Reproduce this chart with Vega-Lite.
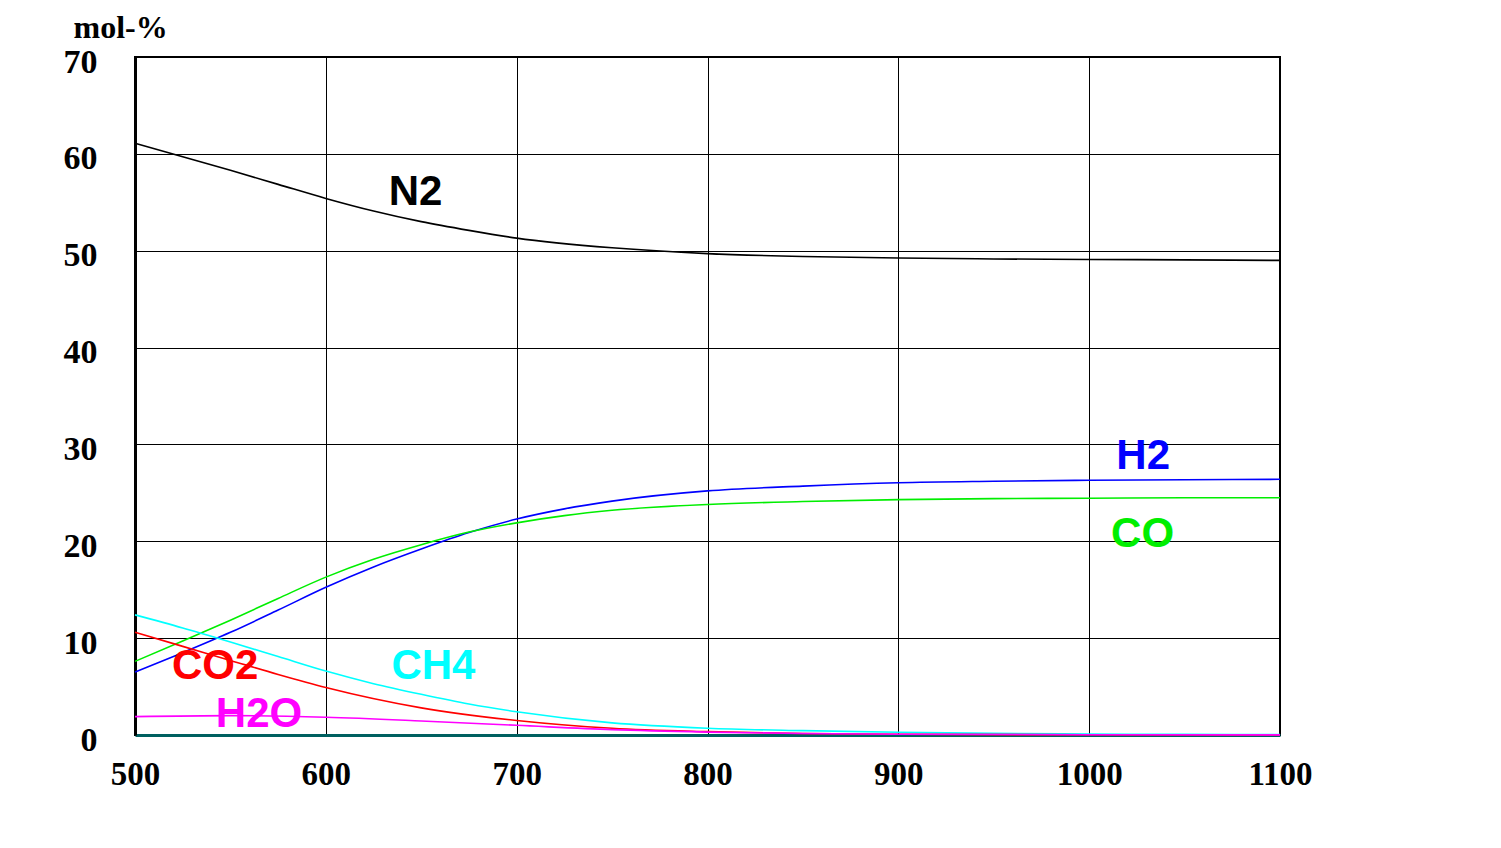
{
  "$schema": "https://vega.github.io/schema/vega-lite/v6.json",
  "width": 1145,
  "height": 678,
  "autosize": {"type": "none"},
  "padding": {"left": 135, "top": 57, "right": 221, "bottom": 113},
  "background": "white",
  "config": {
    "view": {"stroke": "#000000", "strokeWidth": 2},
    "axis": {"labelFont": "Liberation Serif", "labelFontWeight": "bold", "labelColor": "#000000", "gridColor": "#000000", "gridWidth": 1, "gridOpacity": 1, "ticks": false}
  },
  "datasets": {
    "series": [
      {"T": 500, "species": "N2", "v": 61.1}, {"T": 525, "species": "N2", "v": 59.7}, {"T": 550, "species": "N2", "v": 58.3}, {"T": 575, "species": "N2", "v": 56.85}, {"T": 600, "species": "N2", "v": 55.4}, {"T": 625, "species": "N2", "v": 54.1}, {"T": 650, "species": "N2", "v": 53.0}, {"T": 675, "species": "N2", "v": 52.1}, {"T": 700, "species": "N2", "v": 51.3}, {"T": 750, "species": "N2", "v": 50.3}, {"T": 800, "species": "N2", "v": 49.7}, {"T": 850, "species": "N2", "v": 49.4}, {"T": 900, "species": "N2", "v": 49.25}, {"T": 950, "species": "N2", "v": 49.15}, {"T": 1000, "species": "N2", "v": 49.1}, {"T": 1050, "species": "N2", "v": 49.05}, {"T": 1100, "species": "N2", "v": 49.0},
      {"T": 500, "species": "H2", "v": 6.5}, {"T": 525, "species": "H2", "v": 8.5}, {"T": 550, "species": "H2", "v": 10.6}, {"T": 575, "species": "H2", "v": 12.9}, {"T": 600, "species": "H2", "v": 15.25}, {"T": 625, "species": "H2", "v": 17.35}, {"T": 650, "species": "H2", "v": 19.2}, {"T": 675, "species": "H2", "v": 20.9}, {"T": 700, "species": "H2", "v": 22.3}, {"T": 725, "species": "H2", "v": 23.35}, {"T": 750, "species": "H2", "v": 24.15}, {"T": 800, "species": "H2", "v": 25.2}, {"T": 850, "species": "H2", "v": 25.7}, {"T": 900, "species": "H2", "v": 26.05}, {"T": 950, "species": "H2", "v": 26.2}, {"T": 1000, "species": "H2", "v": 26.3}, {"T": 1050, "species": "H2", "v": 26.35}, {"T": 1100, "species": "H2", "v": 26.4},
      {"T": 500, "species": "CO", "v": 7.6}, {"T": 525, "species": "CO", "v": 9.7}, {"T": 550, "species": "CO", "v": 11.85}, {"T": 575, "species": "CO", "v": 14.1}, {"T": 600, "species": "CO", "v": 16.3}, {"T": 625, "species": "CO", "v": 18.15}, {"T": 650, "species": "CO", "v": 19.65}, {"T": 675, "species": "CO", "v": 20.95}, {"T": 700, "species": "CO", "v": 21.9}, {"T": 725, "species": "CO", "v": 22.65}, {"T": 750, "species": "CO", "v": 23.2}, {"T": 800, "species": "CO", "v": 23.8}, {"T": 850, "species": "CO", "v": 24.1}, {"T": 900, "species": "CO", "v": 24.3}, {"T": 950, "species": "CO", "v": 24.4}, {"T": 1000, "species": "CO", "v": 24.45}, {"T": 1050, "species": "CO", "v": 24.5}, {"T": 1100, "species": "CO", "v": 24.5},
      {"T": 500, "species": "CH4", "v": 12.4}, {"T": 525, "species": "CH4", "v": 11.05}, {"T": 550, "species": "CH4", "v": 9.6}, {"T": 575, "species": "CH4", "v": 8.1}, {"T": 600, "species": "CH4", "v": 6.6}, {"T": 625, "species": "CH4", "v": 5.3}, {"T": 650, "species": "CH4", "v": 4.2}, {"T": 675, "species": "CH4", "v": 3.2}, {"T": 700, "species": "CH4", "v": 2.4}, {"T": 750, "species": "CH4", "v": 1.25}, {"T": 800, "species": "CH4", "v": 0.7}, {"T": 850, "species": "CH4", "v": 0.45}, {"T": 900, "species": "CH4", "v": 0.28}, {"T": 950, "species": "CH4", "v": 0.17}, {"T": 1000, "species": "CH4", "v": 0.1}, {"T": 1050, "species": "CH4", "v": 0.07}, {"T": 1100, "species": "CH4", "v": 0.05},
      {"T": 500, "species": "CO2", "v": 10.6}, {"T": 525, "species": "CO2", "v": 9.15}, {"T": 550, "species": "CO2", "v": 7.7}, {"T": 575, "species": "CO2", "v": 6.25}, {"T": 600, "species": "CO2", "v": 4.9}, {"T": 650, "species": "CO2", "v": 2.8}, {"T": 700, "species": "CO2", "v": 1.5}, {"T": 750, "species": "CO2", "v": 0.7}, {"T": 800, "species": "CO2", "v": 0.35}, {"T": 850, "species": "CO2", "v": 0.15}, {"T": 900, "species": "CO2", "v": 0.07}, {"T": 1000, "species": "CO2", "v": 0.02}, {"T": 1100, "species": "CO2", "v": 0.01},
      {"T": 500, "species": "H2O", "v": 1.9}, {"T": 550, "species": "H2O", "v": 2.0}, {"T": 600, "species": "H2O", "v": 1.83}, {"T": 650, "species": "H2O", "v": 1.45}, {"T": 700, "species": "H2O", "v": 1.0}, {"T": 750, "species": "H2O", "v": 0.55}, {"T": 800, "species": "H2O", "v": 0.3}, {"T": 850, "species": "H2O", "v": 0.15}, {"T": 900, "species": "H2O", "v": 0.08}, {"T": 1000, "species": "H2O", "v": 0.03}, {"T": 1100, "species": "H2O", "v": 0.01}
    ],
    "labels": [
      {"T": 647, "v": 54.7, "species": "N2"},
      {"T": 1028.3, "v": 27.5, "species": "H2"},
      {"T": 1028, "v": 19.4, "species": "CO"},
      {"T": 542, "v": 5.75, "species": "CO2"},
      {"T": 656.4, "v": 5.75, "species": "CH4"},
      {"T": 565, "v": 0.8, "species": "H2O"}
    ]
  },
  "layer": [
    {
      "data": {"name": "series"},
      "mark": {"type": "line", "interpolate": "monotone", "strokeWidth": 1.6},
      "encoding": {
        "x": {
          "field": "T", "type": "quantitative",
          "scale": {"domain": [500, 1100], "nice": false, "zero": false},
          "axis": {"values": [500, 600, 700, 800, 900, 1000, 1100], "format": "d", "title": null, "labelFontSize": 33, "labelPadding": 23, "labelBaseline": "top", "domainColor": "#006060", "domainWidth": 3, "labelFlush": false}
        },
        "y": {
          "field": "v", "type": "quantitative",
          "scale": {"domain": [0, 70], "nice": false},
          "axis": {"values": [0, 10, 20, 30, 40, 50, 60, 70], "title": "mol-%", "titleAngle": 0, "titleAlign": "left", "titleBaseline": "alphabetic", "titleX": -62, "titleY": -20, "titleFont": "Liberation Serif", "titleFontWeight": "bold", "titleFontSize": 32, "titleColor": "#000000", "labelFontSize": 34, "labelPadding": 38, "labelOffset": 5, "domainColor": "#000000", "domainWidth": 3}
        },
        "color": {
          "field": "species", "type": "nominal",
          "scale": {"domain": ["N2", "H2", "CO", "CH4", "CO2", "H2O"], "range": ["#000000", "#0000ff", "#00ee00", "#00ffff", "#ff0000", "#ff00ff"]},
          "legend": null
        }
      }
    },
    {
      "data": {"name": "labels"},
      "mark": {"type": "text", "font": "Liberation Sans", "fontWeight": "bold", "fontSize": 42, "align": "center", "baseline": "alphabetic"},
      "encoding": {
        "x": {"field": "T", "type": "quantitative"},
        "y": {"field": "v", "type": "quantitative"},
        "text": {"field": "species"},
        "color": {"field": "species", "type": "nominal", "legend": null}
      }
    }
  ]
}
